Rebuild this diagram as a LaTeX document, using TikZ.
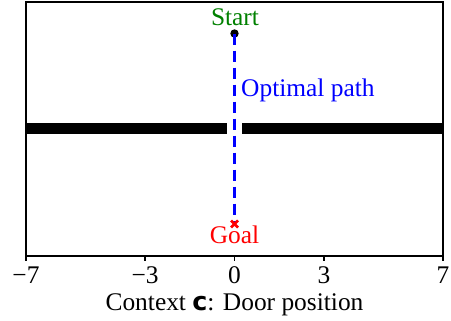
\documentclass[tikz,border=0pt]{standalone}
\usepackage{fontspec}
\setmainfont{Liberation Serif}
\newfontfamily\boldsans{DejaVu Sans}
\usetikzlibrary{positioning, calc}
\definecolor{cgreen}{HTML}{008000}
\definecolor{cblue}{HTML}{0000FF}
\definecolor{cred}{HTML}{FF0000}
\tikzset{
  every picture/.style={font=\fontsize{25.5}{30}\selectfont},
  wall/.style={line width=10.5bp, line cap=butt},
  frame/.style={line width=2bp},
  tickmark/.style={line width=1.6bp},
  lbl/.style={inner sep=0pt, anchor=base},
  optpath/.style={draw=cblue, line width=3.5bp, dash pattern=on 11bp off 6bp},
  dot/.style={circle, fill=black, inner sep=0pt, minimum size=8.4bp},
}
\begin{document}
\begin{tikzpicture}[x=1bp, y=1bp]
  \useasboundingbox (0,0) rectangle (451,320);
  % wall with the door gap
  \draw[wall] (26,191.5) -- (226.7,191.5);
  \draw[wall] (242.3,191.5) -- (443,191.5);
  % start, goal and the path between
  \node[dot] (start) at (234.5,286.5) {};
  \coordinate (goal) at (234.5,96);
  \draw[optpath] (start.center) -- (goal);
  \draw[cred, line width=2.6bp] ($(goal)+(-3.5,-3.5)$) -- ($(goal)+(3.5,3.5)$)
    ($(goal)+(-3.5,3.5)$) -- ($(goal)+(3.5,-3.5)$);
  \node[lbl, text=cgreen] (startlbl) at (235,295) {Start};
  \node[lbl, text=cred] (goallbl) at (234.5,77) {Goal};
  \node[lbl, text=cblue, anchor=base west] (pathlbl) at (241,223.3) {Optimal path};
  % frame
  \draw[frame] (26,64) rectangle (443,318);
  % ticks
  \foreach \v/\t in {-7/−7, -3/−3, 0/0, 3/3, 7/7} {
    \draw[tickmark] ({234.5+\v*29.79},64) -- ++(0,-5);
    \node[lbl] (tick\v) at ({234.5+\v*29.79},37) {\t};
  }
  \node[lbl] (xlabel) at (234.5,10) {Context {\boldsans\bfseries c}: Door position};
\end{tikzpicture}
\end{document}
